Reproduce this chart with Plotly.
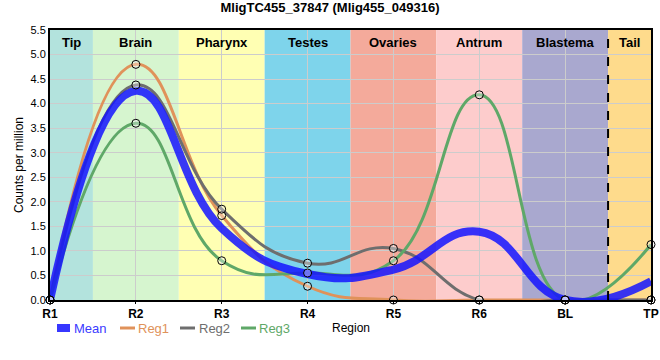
import plotly.graph_objects as go

regions = ["R1", "R2", "R3", "R4", "R5", "R6", "BL", "TP"]
mean_vals = [0.0, 4.26, 1.46, 0.53, 0.62, 1.39, 0.0, 0.38]
reg1_vals = [0.0, 4.80, 1.72, 0.28, 0.0, 0.0, 0.0, 0.0]
reg2_vals = [0.0, 4.38, 1.85, 0.75, 1.05, 0.0, 0.0, 0.0]
reg3_vals = [0.0, 3.60, 0.80, 0.55, 0.80, 4.18, 0.0, 1.13]
band_names = ["Tip", "Brain", "Pharynx", "Testes", "Ovaries", "Antrum", "Blastema", "Tail"]
band_edges = [0, 0.5, 1.5, 2.5, 3.5, 4.5, 5.5, 6.5, 7]
band_colors = ["#b3e3dd", "#d6f5cf", "#ffffb3", "#7ed4eb", "#f4aa9b", "#fdcccc", "#a9a8cf", "#fedb8c"]
y_ticks = [0.5 * i for i in range(12)]

x = list(range(len(regions)))

MEAN_COL = "rgba(20,20,255,0.85)"
SMOOTH = 1.3
series = [
    ("Reg1", reg1_vals, "#e0925a"),
    ("Reg2", reg2_vals, "#6e6e6e"),
    ("Reg3", reg3_vals, "#5fa868"),
]

fig = go.Figure()
for name, vals, col in series:
    fig.add_trace(go.Scatter(
        x=x, y=vals, mode="lines", name=name, showlegend=False, hoverinfo="skip",
        line=dict(color=col, width=3, shape="spline", smoothing=SMOOTH),
    ))
fig.add_trace(go.Scatter(
    x=x, y=mean_vals, mode="lines", name="Mean", showlegend=False, hoverinfo="skip",
    line=dict(color=MEAN_COL, width=8, shape="spline", smoothing=SMOOTH),
))
for name, vals, col in series:
    fig.add_trace(go.Scatter(
        x=x, y=vals, mode="markers", name=name, showlegend=False, hoverinfo="skip",
        marker=dict(size=8, color="rgba(255,255,255,0.35)", line=dict(color="black", width=1)),
        cliponaxis=False,
    ))

L, R, T, B = 50, 9, 30, 60
W, H = 660, 360
pw, ph = W - L - R, H - T - B


def px2x(px):
    return (px - L) / pw


def py2y(py):
    return (H - B - py) / ph


shapes = []
for i, nm in enumerate(band_names):
    shapes.append(dict(type="rect", xref="x", yref="paper", x0=band_edges[i], x1=band_edges[i + 1],
                       y0=0, y1=1, fillcolor=band_colors[i], line=dict(width=0), layer="below"))
shapes.append(dict(type="line", xref="x", yref="paper", x0=6.5, x1=6.5, y0=0, y1=1,
                   line=dict(color="black", width=2, dash="dash"), layer="above"))

annotations = []
for i, nm in enumerate(band_names):
    annotations.append(dict(x=(band_edges[i] + band_edges[i + 1]) / 2, y=1, xref="x", yref="paper",
                            yanchor="top", yshift=-3, text=f"<b>{nm}</b>", showarrow=False,
                            font=dict(size=13, color="black", family="Arial")))

legend_items = [
    ("Mean", "#3b3bff", MEAN_COL, 8, 57, 70, 74),
    ("Reg1", "#e0925a", "#e0925a", 3, 120, 135, 138),
    ("Reg2", "#6e6e6e", "#6e6e6e", 3, 180, 195, 199),
    ("Reg3", "#5fa868", "#5fa868", 3, 241, 256, 259),
]
ly = py2y(328)
for nm, tcol, lcol, lw, x0, x1, tx in legend_items:
    shapes.append(dict(type="line", xref="paper", yref="paper", x0=px2x(x0), x1=px2x(x1), y0=ly, y1=ly,
                       line=dict(color=lcol, width=lw)))
    annotations.append(dict(x=px2x(tx), y=ly, xref="paper", yref="paper", xanchor="left", yanchor="middle",
                            text=nm, showarrow=False, borderpad=0, xshift=-1,
                            font=dict(size=13, color=tcol, family="Arial")))
annotations.append(dict(x=px2x(351), y=ly, xref="paper", yref="paper", xanchor="center", yanchor="middle",
                        text="Region", showarrow=False, borderpad=0,
                        font=dict(size=12, color="black", family="Arial")))

fig.update_layout(
    width=W, height=H,
    margin=dict(l=L, r=R, t=T, b=B, autoexpand=False),
    paper_bgcolor="white", plot_bgcolor="white",
    showlegend=False,
    title=dict(text="<b>MligTC455_37847 (Mlig455_049316)</b>", x=0.5, xanchor="center",
               y=1, yanchor="top", pad=dict(t=3), yref="container",
               font=dict(size=13, color="black", family="Arial")),
    shapes=shapes, annotations=annotations,
    xaxis=dict(range=[0, 7], tickvals=x, ticktext=[f"<b>{r}</b>" for r in regions],
               tickfont=dict(size=12, color="black", family="Arial"),
               showgrid=True, gridcolor="#cccccc", gridwidth=1,
               showline=True, linecolor="black", linewidth=2, mirror=True,
               ticks="outside", ticklen=2, tickcolor="black", zeroline=False, automargin=False),
    yaxis=dict(range=[0, 5.5], tickvals=y_ticks, tickformat=".1f",
               tickfont=dict(size=11, color="black", family="Arial"),
               showgrid=True, gridcolor="#cccccc", gridwidth=1,
               showline=True, linecolor="black", linewidth=2, mirror=True,
               zeroline=False, automargin=False,
               title=dict(text="Counts per million", standoff=4, font=dict(size=12, color="black", family="Arial"))),
)

fig.write_html("out.html", config={"displayModeBar": False},
               post_script="document.body.style.margin='0px';")
